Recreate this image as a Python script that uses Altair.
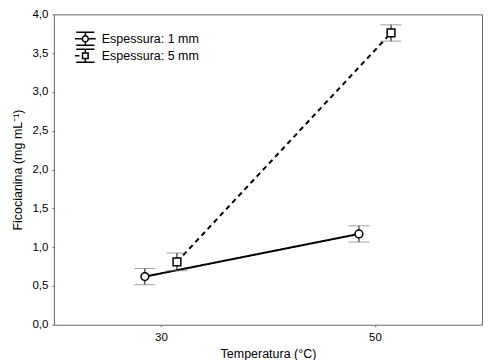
import altair as alt
import pandas as pd

series = ["Espessura: 1 mm", "Espessura: 1 mm", "Espessura: 5 mm", "Espessura: 5 mm"]
temperature = [28.5, 48.5, 31.5, 51.5]
mean = [0.62, 1.17, 0.81, 3.76]
err = [0.105, 0.105, 0.115, 0.105]
y_ticks = [0.0, 0.5, 1.0, 1.5, 2.0, 2.5, 3.0, 3.5, 4.0]
x_ticks = [30, 50]

df = pd.DataFrame({"serie": series, "temp": temperature, "mean": mean, "err": err})
df["lo"] = df["mean"] - df["err"]
df["hi"] = df["mean"] + df["err"]

FONT = "Liberation Sans"
order = ["Espessura: 1 mm", "Espessura: 5 mm"]

x_scale = alt.Scale(domain=[20, 60], nice=False, zero=False)
y_scale = alt.Scale(domain=[0, 4], nice=False)

x_axis = alt.Axis(values=x_ticks, title="Temperatura (°C)", grid=False,
                  tickSize=2, labelPadding=5, titlePadding=4, domain=False)
y_axis = alt.Axis(values=y_ticks, title="Ficocianina (mg mL⁻¹)",
                  grid=False, tickSize=2, labelPadding=4, titlePadding=7, domain=False,
                  labelOverlap=False, tickCount=9,
                  labelExpr="replace(format(datum.value, '.1f'), '.', ',')")

X = alt.X("temp:Q", scale=x_scale, axis=x_axis)
Y = alt.Y("mean:Q", scale=y_scale, axis=y_axis)

base = alt.Chart(df)

# legend-only layer: marks pushed out of the plot and clipped, legend kept
sym1 = ("M-1.6,0 H-0.46 M0.46,0 H1.6 "
        "M-0.46,0 A0.46,0.46 0 1,1 0.46,0 A0.46,0.46 0 1,1 -0.46,0 "
        "M-1.4,-1 H1.4 M-1.4,1 H1.4 M0,-1 V-0.46 M0,0.46 V1")
sym2 = ("M-1.6,0 H-0.9 "
        "M-0.43,-0.43 H0.43 V0.43 H-0.43 Z "
        "M-1.4,-1 H1.4 M-1.4,1 H1.4 M0,-1 V-0.43 M0,0.43 V1")

legend_layer = base.mark_point(
    filled=False, strokeWidth=1.5, opacity=1, color="black", yOffset=3000, clip=True
).encode(
    x=X, y=Y,
    shape=alt.Shape("serie:N", scale=alt.Scale(domain=order, range=[sym1, sym2]),
                    legend=alt.Legend(title=None, orient="none", legendX=24, legendY=17,
                                      symbolSize=169, symbolStrokeWidth=1.5,
                                      labelFont=FONT, labelFontSize=12.5, labelColor="black",
                                      rowPadding=-7, labelOffset=9, padding=0)),
)

lines = base.mark_line(color="black", strokeWidth=2).encode(
    x=X, y=Y,
    strokeDash=alt.StrokeDash("serie:N", scale=alt.Scale(domain=order, range=[[1, 0], [5, 4]]), legend=None),
    detail="serie:N",
)

bars = base.mark_rule(color="black", strokeWidth=1).encode(
    x=X, y=alt.Y("lo:Q", scale=y_scale, axis=y_axis), y2="hi:Q"
)

caps_hi = base.mark_tick(color="#777", thickness=1, size=21, orient="horizontal").encode(
    x=X, y=alt.Y("hi:Q", scale=y_scale, axis=y_axis)
)
caps_lo = base.mark_tick(color="#777", thickness=1, size=21, orient="horizontal").encode(
    x=X, y=alt.Y("lo:Q", scale=y_scale, axis=y_axis)
)

points = base.mark_point(filled=True, fill="white", stroke="black", strokeWidth=1.5, opacity=1).encode(
    x=X, y=Y,
    shape=alt.Shape("serie:N", scale=alt.Scale(domain=order, range=["circle", "square"]), legend=None),
    size=alt.value(60),
)

chart = alt.layer(legend_layer, lines, bars, caps_hi, caps_lo, points).resolve_scale(
    shape="independent"
).properties(
    width=429, height=311,
    padding={"left": 4, "top": 0, "right": 2, "bottom": 0},
).configure_view(
    stroke="#666", strokeWidth=1
).configure_axis(
    labelFont=FONT, titleFont=FONT, labelFontSize=11.5, titleFontSize=12.5,
    labelColor="black", titleColor="black", titleFontWeight="normal",
    tickColor="#666"
)

chart.save("out.html", embed_options={"renderer": "svg", "actions": False})
